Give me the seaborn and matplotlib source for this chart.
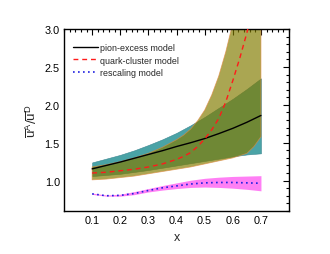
import numpy as np
import pandas as pd
import matplotlib
matplotlib.use("Agg")
import matplotlib.pyplot as plt
from matplotlib.ticker import MultipleLocator
import seaborn as sns

# ---- data ----
x = [0.10, 0.15, 0.20, 0.25, 0.30, 0.35, 0.40, 0.45, 0.50, 0.55, 0.60, 0.65, 0.70]

pion_central = [1.155, 1.20, 1.245, 1.295, 1.345, 1.395, 1.45, 1.50, 1.555, 1.62, 1.69, 1.77, 1.86]
pion_upper   = [1.24, 1.29, 1.34, 1.40, 1.47, 1.545, 1.63, 1.73, 1.84, 1.96, 2.08, 2.21, 2.35]
pion_lower   = [1.06, 1.075, 1.09, 1.115, 1.14, 1.17, 1.20, 1.23, 1.26, 1.29, 1.32, 1.345, 1.36]

x_quark = [0.10, 0.15, 0.20, 0.25, 0.30, 0.35, 0.40, 0.425, 0.45, 0.475, 0.50,
           0.525, 0.55, 0.575, 0.60, 0.625, 0.65, 0.675, 0.70]
quark_central = [1.10, 1.11, 1.13, 1.15, 1.18, 1.22, 1.28, 1.32, 1.37, 1.45, 1.55,
                 1.67, 1.82, 2.04, 2.32, 2.62, 2.95, 3.35, 3.80]
quark_upper   = [1.18, 1.21, 1.25, 1.30, 1.36, 1.44, 1.54, 1.60, 1.68, 1.79, 1.93,
                 2.13, 2.38, 2.70, 3.08, 3.50, 3.95, 4.50, 5.10]
quark_lower   = [1.01, 1.02, 1.04, 1.06, 1.09, 1.12, 1.15, 1.165, 1.18, 1.20, 1.22,
                 1.24, 1.26, 1.28, 1.30, 1.33, 1.36, 1.45, 1.58]

resc_central = [0.825, 0.80, 0.805, 0.83, 0.87, 0.905, 0.93, 0.955, 0.97, 0.975, 0.975, 0.97, 0.965]
resc_upper   = [0.835, 0.81, 0.82, 0.855, 0.895, 0.935, 0.97, 1.005, 1.03, 1.045, 1.055, 1.06, 1.065]
resc_lower   = [0.818, 0.795, 0.795, 0.815, 0.85, 0.875, 0.895, 0.91, 0.915, 0.91, 0.90, 0.885, 0.865]

labels = ["pion-excess model", "quark-cluster model", "rescaling model"]
xtick_labels = ["0.1", "0.2", "0.3", "0.4", "0.5", "0.6", "0.7"]

# ---- styling ----
sns.set_theme(style="white")
plt.rcParams["font.family"] = ["Liberation Sans", "DejaVu Sans"]
plt.rcParams["mathtext.fontset"] = "custom"
plt.rcParams["mathtext.rm"] = "Liberation Sans"
plt.rcParams["mathtext.it"] = "Liberation Sans"

fig = plt.figure(figsize=(3.3, 2.55), dpi=100)
ax = fig.add_axes([0.194, 0.169, 0.682, 0.713])

# bands
ax.fill_between(x, pion_lower, pion_upper, color="#4aa3a6", lw=0.4,
                edgecolor="#3a8590", zorder=1)
ax.fill_between(x_quark, quark_lower, quark_upper, facecolor="#827c00", alpha=0.68,
                lw=0.6, edgecolor="#e08a40", zorder=2)
ax.fill_between(x, resc_lower, resc_upper, color="#ff7ff5", lw=0, zorder=3)

df = pd.DataFrame({"x": x, "pion": pion_central, "resc": resc_central})
dq = pd.DataFrame({"x": x_quark, "quark": quark_central})
sns.lineplot(data=df, x="x", y="pion", ax=ax, color="black", lw=1.0, label=labels[0], zorder=5)
sns.lineplot(data=dq, x="x", y="quark", ax=ax, color="#ff1a1a", lw=1.0, label=labels[1], zorder=5)
ax.lines[-1].set_dashes([3.5, 2.8])
sns.lineplot(data=df, x="x", y="resc", ax=ax, color="#2020e0", lw=1.2, label=labels[2], zorder=5)
ax.lines[-1].set_dashes([1, 2.0])

ax.set_xlim(0.0, 0.8)
ax.set_ylim(0.6, 3.0)
ax.xaxis.set_minor_locator(MultipleLocator(0.02))
ax.yaxis.set_major_locator(MultipleLocator(0.5))
ax.yaxis.set_minor_locator(MultipleLocator(0.1))
ax.set_xticks([0.1, 0.2, 0.3, 0.4, 0.5, 0.6, 0.7])
ax.set_xticklabels(xtick_labels)
ax.tick_params(which="both", direction="in", top=True, right=True, labelsize=7.8,
               colors="black", width=0.8, pad=3)
ax.tick_params(which="major", length=4)
ax.tick_params(which="minor", length=2)
for s in ax.spines.values():
    s.set_color("black")
    s.set_linewidth(1.0)

ax.set_xlabel("x", fontsize=9, labelpad=4)
ax.set_ylabel(r"$\overline{u}^{A}/\overline{u}^{D}$", fontsize=9.5, labelpad=3)

leg = ax.legend(loc="upper left", frameon=False, fontsize=6.4, handlelength=2.8,
                handletextpad=0.3, labelspacing=0.35, borderaxespad=0.6,
                bbox_to_anchor=(0.0, 0.97))

fig.savefig("out.png", dpi=100)
